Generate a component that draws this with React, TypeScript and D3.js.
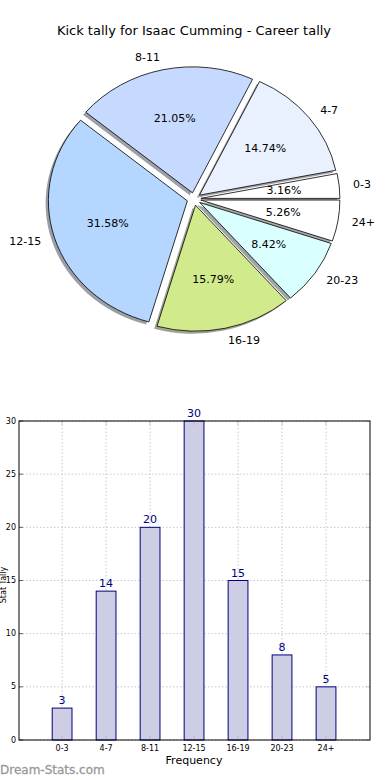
import React from 'react';
import * as d3 from 'd3';

const categories = ['0-3', '4-7', '8-11', '12-15', '16-19', '20-23', '24+'];
const tallies = [3, 14, 20, 30, 15, 8, 5];
const sliceColors = ['#ffffff', '#e9f1ff', '#c6d9ff', '#b5d6ff', '#d1ea8c', '#daffff', '#ffffff'];
const yTicks = [0, 5, 10, 15, 20, 25, 30];

const W = 390;
const H = 780;

// pie geometry (matplotlib-like, unequal aspect so it's an ellipse)
const pcx = 194;
const pcy = 199;
const rx = 139;
const ry = 126;
const explode = 0.05;

const App = () => {
  const total = d3.sum(tallies);
  const pie = d3.pie<number>().sort(null).startAngle(Math.PI / 2).endAngle(Math.PI / 2 - 2 * Math.PI);
  const arcs = pie(tallies);
  const arc = d3.arc<d3.PieArcDatum<number>>().innerRadius(0).outerRadius(1);

  const slices = arcs.map((a, i) => {
    const mid = (a.startAngle + a.endAngle) / 2;
    // d3 angle -> unit x/y in svg (y down)
    const ux = Math.sin(mid);
    const uy = -Math.cos(mid);
    return {
      a,
      i,
      ux,
      uy,
      ox: pcx + explode * ux * rx,
      oy: pcy + explode * uy * ry,
    };
  });

  // bar chart scales
  const left = 19;
  const right = 370;
  const top = 421;
  const bottom = 740;
  const x = d3.scaleLinear().domain([-0.98, 7]).range([left, right]);
  const y = d3.scaleLinear().domain([0, 30]).range([bottom, top]);
  const barW = x(0.45) - x(0);

  const shade = (c: string) => {
    const col = d3.rgb(c);
    return d3.rgb(col.r * 0.3, col.g * 0.3, col.b * 0.3).toString();
  };

  return (
    <svg
      width={W}
      height={H}
      style={{ position: 'absolute', left: 0, top: 0, background: '#fff' }}
      fontFamily="DejaVu Sans, sans-serif"
    >
      <rect width={W} height={H} fill="#fff" />
      <text x={194} y={35} textAnchor="middle" fontSize={13} fill="#000">
        Kick tally for Isaac Cumming - Career tally
      </text>

      {/* shadows */}
      {slices.map((s) => (
        <path
          key={'sh' + s.i}
          d={arc(s.a) || ''}
          transform={`translate(${s.ox - 0.02 * rx},${s.oy + 0.02 * ry}) scale(${rx},${ry})`}
          fill={shade(sliceColors[s.i])}
          opacity={0.5}
        />
      ))}
      {slices.map((s) => (
        <path
          key={'w' + s.i}
          d={arc(s.a) || ''}
          transform={`translate(${s.ox},${s.oy}) scale(${rx},${ry})`}
          fill={sliceColors[s.i]}
          stroke="#000"
          strokeWidth={0.8}
          vectorEffect="non-scaling-stroke"
        />
      ))}
      {slices.map((s) => (
        <text
          key={'p' + s.i}
          x={s.ox + 0.6 * rx * s.ux}
          y={s.oy + 0.6 * ry * s.uy}
          textAnchor="middle"
          dominantBaseline="central"
          fontSize={11}
          fill="#000"
        >
          {((tallies[s.i] / total) * 100).toFixed(2) + '%'}
        </text>
      ))}
      {slices.map((s) => (
        <text
          key={'l' + s.i}
          x={s.ox + 1.1 * rx * s.ux}
          y={s.oy + 1.1 * ry * s.uy}
          textAnchor={s.ux > 0 ? 'start' : 'end'}
          dominantBaseline="central"
          fontSize={11}
          fill="#000"
        >
          {categories[s.i]}
        </text>
      ))}

      {/* bar chart */}
      {yTicks.map((t) => (
        <g key={'yt' + t}>
          <line x1={left} x2={right} y1={y(t)} y2={y(t)} stroke="#c8c8c8" strokeDasharray="1.5,2" />
          <line x1={left} x2={left + 4} y1={y(t)} y2={y(t)} stroke="#000" strokeWidth={0.6} />
          <line x1={right - 4} x2={right} y1={y(t)} y2={y(t)} stroke="#aaa" strokeWidth={0.6} />
          <text x={left - 3} y={y(t)} textAnchor="end" dominantBaseline="central" fontSize={8} fill="#000">
            {t}
          </text>
        </g>
      ))}
      {categories.map((c, i) => (
        <g key={'xt' + c}>
          <line x1={x(i)} x2={x(i)} y1={top} y2={bottom} stroke="#c8c8c8" strokeDasharray="1.5,2" />
        </g>
      ))}
      {tallies.map((v, i) => (
        <g key={'b' + i}>
          <rect
            x={x(i) - barW / 2}
            y={y(v)}
            width={barW}
            height={y(0) - y(v)}
            fill="#cdcde4"
            stroke="#000080"
            strokeWidth={1}
          />
          <text x={x(i)} y={y(v) - 4} textAnchor="middle" fontSize={11} fill="#000080">
            {v}
          </text>
        </g>
      ))}
      {categories.map((c, i) => (
        <g key={'xl' + c}>
          <line x1={x(i)} x2={x(i)} y1={bottom} y2={bottom - 4} stroke="#aaa" strokeWidth={0.6} />
          <line x1={x(i)} x2={x(i)} y1={top} y2={top + 4} stroke="#aaa" strokeWidth={0.6} />
          <text x={x(i)} y={bottom + 11} textAnchor="middle" fontSize={8} fill="#000">
            {c}
          </text>
        </g>
      ))}
      <rect x={left} y={top} width={right - left} height={bottom - top} fill="none" stroke="#000" strokeWidth={1} />
      <text x={194} y={764} textAnchor="middle" fontSize={11} fill="#000">
        Frequency
      </text>
      <text
        transform={`translate(6,${585}) rotate(-90)`}
        textAnchor="middle"
        fontSize={8}
        fill="#000"
      >
        Stat Tally
      </text>
      <text x={0} y={774} fontSize={12} fill="#999" stroke="#999" strokeWidth={0.3}>
        Dream-Stats.com
      </text>
    </svg>
  );
};

export default App;
